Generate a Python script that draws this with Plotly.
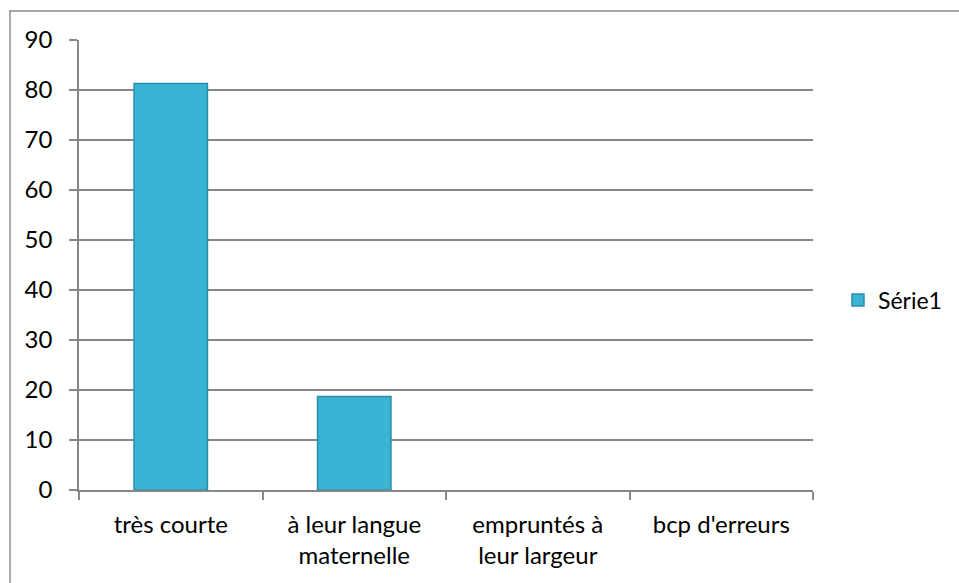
import plotly.graph_objects as go

categories = ["très courte", "à leur langue<br>maternelle", "empruntés à<br>leur largeur", "bcp d'erreurs"]
values = [81.3, 18.7, 0, 0]
series_name = "Série1"
y_ticks = [0, 10, 20, 30, 40, 50, 60, 70, 80, 90]

W, H = 959, 583
L, R, T, B = 79, 146, 40, 93
plot_w, plot_h = W - L - R, H - T - B

font = dict(family="Lato, 'Open Sans', sans-serif", size=24, color="#000000")
grid = "#878787"

fig = go.Figure()
fig.add_trace(go.Bar(
    x=categories,
    y=values,
    name=series_name,
    marker=dict(
        color="#3AB3D4",
        # empty categories get no outline
        line=dict(color="#2A8DA8", width=[1.5 if v > 0 else 0 for v in values]),
    ),
    showlegend=True,
))

# outer chart frame (its right and bottom edges fall outside the page)
fig.add_shape(
    type="rect", xref="paper", yref="paper",
    x0=(10 - L) / plot_w, x1=2,
    y0=-2, y1=(H - B - 11) / plot_h,
    line=dict(color="#8C8C8C", width=1.5),
    fillcolor="rgba(0,0,0,0)", layer="below",
)

fig.update_layout(
    width=W, height=H,
    margin=dict(l=L, r=R, t=T, b=B, pad=0),
    paper_bgcolor="white", plot_bgcolor="white",
    font=font,
    bargap=0.6,
    legend=dict(
        x=(838 - L) / plot_w, y=(H - B - 300) / plot_h,
        xanchor="left", yanchor="middle",
        font=dict(size=23), itemwidth=30,
        bgcolor="rgba(0,0,0,0)",
    ),
)
fig.update_xaxes(
    showline=True, linecolor=grid, linewidth=1.5,
    ticks="outside", tickson="boundaries", ticklen=8, tickcolor=grid, tickwidth=1.5,
    showgrid=False, tickfont=font, ticklabelstandoff=12,
)
fig.update_yaxes(
    range=[0, 90], tickvals=y_ticks,
    showline=True, linecolor=grid, linewidth=1.5,
    ticks="outside", ticklen=8, tickcolor=grid, tickwidth=1.5,
    showgrid=True, gridcolor=grid, gridwidth=1.5,
    zeroline=False, tickfont=font, ticklabelstandoff=12,
)

fig.write_html("out.html")
